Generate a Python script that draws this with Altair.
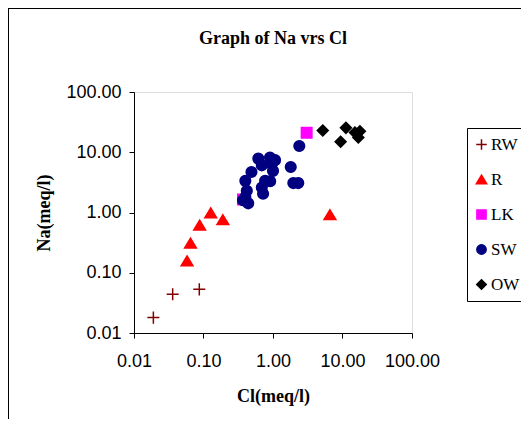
import altair as alt
import pandas as pd

series = ["RW", "R", "LK", "SW", "OW"]
colors = ["#800000", "#FF0000", "#FF00FF", "#000080", "#000000"]
tick_values = [0.01, 0.1, 1, 10, 100]

rw_cl = [0.019, 0.036, 0.087]
rw_na = [0.018, 0.044, 0.053]

r_cl = [0.058, 0.065, 0.088, 0.127, 0.19, 6.6]
r_na = [0.158, 0.31, 0.62, 0.99, 0.76, 0.92]

lk_cl = [3.05, 0.37]
lk_na = [21.0, 1.65]

sw_cl = [2.39, 1.8, 1.96, 2.31, 0.615, 0.905, 1.07, 0.69, 0.96, 1.0,
         0.49, 0.40, 0.77, 0.91, 0.69, 0.72, 0.42, 0.40, 0.44, 0.37]
sw_na = [12.7, 5.7, 3.08, 3.08, 7.85, 8.15, 7.4, 6.07, 6.4, 4.9,
         4.7, 3.35, 3.35, 3.3, 2.6, 2.05, 2.3, 1.8, 1.42, 1.6]

ow_cl = [5.2, 11.2, 9.4, 15.1, 17.8, 16.9]
ow_na = [23.0, 25.4, 14.9, 21.3, 22.4, 17.6]

rows = []
for name, xs, ys in [("RW", rw_cl, rw_na), ("R", r_cl, r_na), ("LK", lk_cl, lk_na),
                     ("SW", sw_cl, sw_na), ("OW", ow_cl, ow_na)]:
    for x, y in zip(xs, ys):
        rows.append({"Series": name, "Cl": x, "Na": y})
df = pd.DataFrame(rows)

plus = "M-0.86,0H0.86M0,-0.86V0.86"
tri = "M0,-0.7L0.84,0.7L-0.84,0.7Z"
square = "M-0.75,-0.75H0.75V0.75H-0.75Z"
circle = "M-0.76,0A0.76,0.76 0 1,0 0.76,0A0.76,0.76 0 1,0 -0.76,0Z"
diamond = "M0,-0.78L0.78,0L0,0.78L-0.78,0Z"
shapes = [plus, tri, square, circle, diamond]

leg = alt.Legend(
    title=None, orient="none", legendX=333, legendY=36,
    padding=8, strokeColor="black", fillColor="white",
    labelFont="Liberation Serif", labelFontSize=17, labelColor="black",
    symbolSize=150, symbolStrokeWidth=1.5, rowPadding=17, labelOffset=1,
    symbolOffset=-2,
)

points = alt.Chart(df).mark_point(filled=True, size=196, strokeWidth=1.5, opacity=1).encode(
    x=alt.X("Cl:Q",
            scale=alt.Scale(type="log", domain=[0.01, 100]),
            axis=alt.Axis(values=tick_values, format=".2f", title="Cl(meq/l)", grid=False,
                          labelFont="Liberation Sans", labelFontSize=18, labelColor="black",
                          titleFont="Liberation Serif", titleFontSize=18, titleFontWeight="bold",
                          titleColor="black", domainColor="black", tickColor="black",
                          tickSize=5, labelPadding=14, titlePadding=17, labelFlush=False)),
    y=alt.Y("Na:Q",
            scale=alt.Scale(type="log", domain=[0.01, 100]),
            axis=alt.Axis(values=tick_values, format=".2f", title="Na(meq/l)", grid=False,
                          labelFont="Liberation Sans", labelFontSize=18, labelColor="black",
                          titleFont="Liberation Serif", titleFontSize=18, titleFontWeight="bold",
                          titleColor="black", domainColor="black", tickColor="black",
                          tickSize=5, labelPadding=8, titlePadding=12, labelFlush=False)),
    fill=alt.Fill("Series:N", scale=alt.Scale(domain=series, range=colors), legend=leg),
    stroke=alt.Stroke("Series:N", scale=alt.Scale(domain=series, range=colors), legend=leg),
    shape=alt.Shape("Series:N", scale=alt.Scale(domain=series, range=shapes), legend=leg),
)

one = pd.DataFrame({"a": [0]})
frame_left = alt.Chart(one).mark_rule(color="black", strokeWidth=1).encode(
    x=alt.value(-125.5), y=alt.value(-84), y2=alt.value(420))
frame_top = alt.Chart(one).mark_rule(color="black", strokeWidth=1).encode(
    y=alt.value(-83.5), x=alt.value(-126), x2=alt.value(500))

chart = alt.layer(frame_left, frame_top, points).properties(
    width=278, height=241,
    title=alt.TitleParams("Graph of Na vrs Cl", font="Liberation Serif", fontSize=18,
                          fontWeight="bold", color="black", anchor="middle",
                          frame="group", baseline="alphabetic", offset=-54),
    autosize=alt.AutoSizeParams(type="none"),
    padding={"left": 126, "top": 84, "right": 109, "bottom": 86},
).configure_view(stroke=None).configure(background="white")

chart.save("out.html", embed_options={"renderer": "svg", "actions": False})
